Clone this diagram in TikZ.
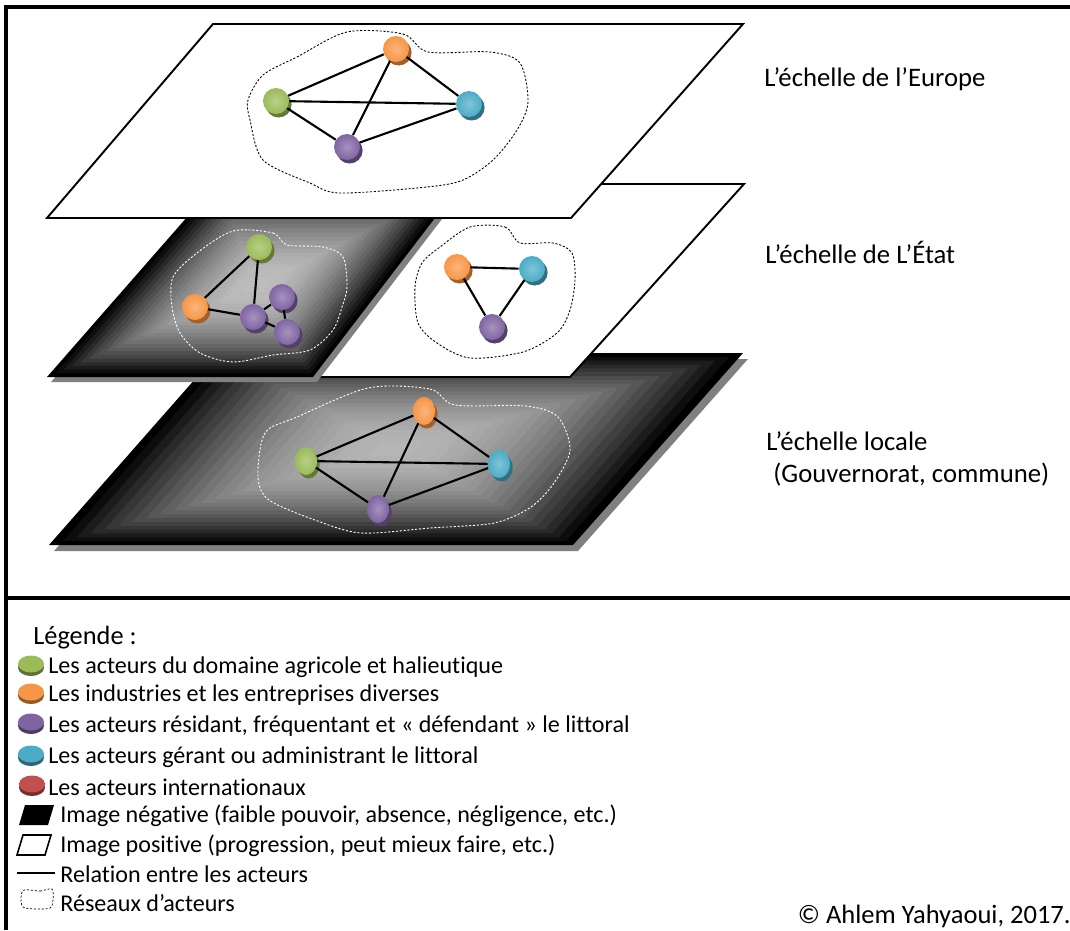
\documentclass[tikz,border=0pt]{standalone}
\usepackage{fontspec}
\setmainfont{Carlito}[Ligatures=NoCommon]
\usetikzlibrary{calc,shadows,shapes.geometric}

\definecolor{agri}{HTML}{9BBB59}
\definecolor{indus}{HTML}{F79646}
\definecolor{resid}{HTML}{8064A2}
\definecolor{gerant}{HTML}{4BACC6}
\definecolor{inter}{HTML}{C0504D}
\definecolor{shadowgray}{HTML}{808080}

\begin{document}
\begin{tikzpicture}[x=0.02cm, y=-0.02cm,
        actor/.style={circle, inner sep=0pt, minimum size=0.52cm, shading=radial, inner color=#1!70!white, outer color=#1,
            drop shadow={shadow xshift=1.5pt, shadow yshift=-2pt, opacity=1, fill=#1!65!black}},
        flatactor/.style={actor=#1, ellipse, minimum width=0.44cm, minimum height=0.56cm},
        legdisk/.style={ellipse, inner sep=0pt, minimum width=0.52cm, minimum height=0.34cm, fill=#1,
            drop shadow={shadow xshift=0pt, shadow yshift=-2pt, opacity=1, fill=#1!60!black}},
        link/.style={line width=1.2pt},
        netdark/.style={line width=0.5pt, dash pattern=on 1.2pt off 1pt},
        netlight/.style={netdark, white},
        scalelabel/.style={anchor=west, inner sep=0pt, align=left, font=\fontsize{15.2}{18.6}\selectfont},
        legtext/.style={anchor=west, inner sep=0pt, font=\fontsize{13.7}{15}\selectfont}
    ]
    \useasboundingbox (0,0) rectangle (1070,930);

    % Frame and divider
    \draw[line width=2.3pt] (6,930) -- (6,7) -- (1070,7);
    \draw[line width=2.3pt] (6,598) -- (1070,598);

    % Local plane (shadow, then shading from rim to centre)
    \coordinate (lA) at (218,353);
    \coordinate (lB) at (743,353);
    \coordinate (lC) at (573,545);
    \coordinate (lD) at (49,545);
    \coordinate (lM) at (396,449);
    \fill[shadowgray] ([shift={(5,6)}]lA) -- ([shift={(5,6)}]lB) -- ([shift={(5,6)}]lC) -- ([shift={(5,6)}]lD) -- cycle;
    \foreach \i in {0,...,24} {
        \pgfmathsetmacro\s{1-\i/25}
        \pgfmathtruncatemacro\w{72*(1-\s*\s)}
        \fill[white!\w!black] ($(lM)!\s!(lA)$) -- ($(lM)!\s!(lB)$) -- ($(lM)!\s!(lC)$) -- ($(lM)!\s!(lD)$) -- cycle;
    }

    % State plane: white part
    \draw[line width=1.1pt, fill=white] (400,184) -- (744,184) -- (570,377) -- (230,377) -- cycle;

    % State plane: dark part
    \coordinate (gA) at (216,184);
    \coordinate (gB) at (461,184);
    \coordinate (gC) at (313,377);
    \coordinate (gD) at (47,377);
    \coordinate (gM) at (259,285);
    \fill[shadowgray] ([shift={(4,5)}]gA) -- ([shift={(4,5)}]gB) -- ([shift={(4,5)}]gC) -- ([shift={(4,5)}]gD) -- cycle;
    \foreach \i in {0,...,24} {
        \pgfmathsetmacro\s{1-\i/25}
        \pgfmathtruncatemacro\w{75*(1-\s*\s)}
        \fill[white!\w!black] ($(gM)!\s!(gA)$) -- ($(gM)!\s!(gB)$) -- ($(gM)!\s!(gC)$) -- ($(gM)!\s!(gD)$) -- cycle;
    }

    % Europe plane
    \draw[line width=1.1pt, fill=white] (213,24) -- (743,24) -- (571,218) -- (47,218) -- cycle;

    % Networks (dotted outlines)
    \draw[netdark] plot[smooth cycle] coordinates {(347,32) (403,34) (428,52) (490,52) (520,63) (528,102) (517,130)
        (493,160) (463,180) (427,187) (340,193) (310,183) (263,160) (250,120) (248,100) (263,75) (297,57)};
    \draw[netlight] plot[smooth cycle] coordinates {(233,231) (273,233) (287,245) (323,247) (343,257) (347,287) (342,307)
        (333,330) (310,350) (273,355) (233,362) (200,353) (180,333) (172,307) (173,277) (197,253)};
    \draw[netdark] plot[smooth cycle] coordinates {(470,227) (505,227) (520,243) (553,243) (572,253) (575,280) (570,310)
        (557,333) (523,352) (470,358) (437,343) (418,323) (415,287) (422,263) (440,247)};
    \draw[netlight] plot[smooth cycle] coordinates {(368,388) (430,389) (455,405) (526,406) (558,417) (570,450) (554,483)
        (531,507) (494,523) (430,528) (361,533) (315,520) (269,500) (258,477) (265,433) (297,417)};

    % Actors at the scale of Europe
    \node[actor=indus] (eOr) at (396,49) {};
    \node[actor=agri] (eGr) at (276,101) {};
    \node[actor=gerant] (eTe) at (469,104) {};
    \node[actor=resid] (ePu) at (347,147) {};

    % Actors at the scale of the State
    \node[actor=agri] (sGr) at (259,247) {};
    \node[actor=indus] (sOr) at (195,307) {};
    \node[actor=resid] (sPu1) at (253,317) {};
    \node[actor=resid] (sPu2) at (282,297) {};
    \node[actor=resid] (sPu3) at (287,332) {};
    \node[actor=indus] (tOr) at (457,267) {};
    \node[actor=gerant] (tTe) at (532,269) {};
    \node[actor=resid] (tPu) at (492,327) {};

    % Actors at the local scale
    \node[flatactor=indus] (lOr) at (424,411) {};
    \node[flatactor=agri] (lGr) at (306,461) {};
    \node[flatactor=gerant] (lTe) at (499,464) {};
    \node[flatactor=resid] (lPu) at (378,509) {};

    % Relations
    \draw[link] (eGr) -- (eOr);
    \draw[link] (eGr) -- (eTe);
    \draw[link] (eGr) -- (ePu);
    \draw[link] (eOr) -- (eTe);
    \draw[link] (eOr) -- (ePu);
    \draw[link] (ePu) -- (eTe);

    \draw[link] (sGr) -- (sOr);
    \draw[link] (sGr) -- (sPu1);
    \draw[link] (sOr) -- (sPu1);
    \draw[link] (sPu1) -- (sPu2);
    \draw[link] (sPu2) -- (sPu3);
    \draw[link] (sPu1) -- (sPu3);

    \draw[link] (tOr) -- (tTe);
    \draw[link] (tOr) -- (tPu);
    \draw[link] (tTe) -- (tPu);

    \draw[link] (lGr) -- (lOr);
    \draw[link] (lGr) -- (lTe);
    \draw[link] (lGr) -- (lPu);
    \draw[link] (lOr) -- (lTe);
    \draw[link] (lOr) -- (lPu);
    \draw[link] (lPu) -- (lTe);

    % Scale labels
    \node[scalelabel] (europe) at (764,79) {L’échelle de l’Europe};
    \node[scalelabel] (etat) at (765,252) {L’échelle de L’État};
    \node[scalelabel] (locale) at (766,459) {L’échelle locale\\\hspace*{4pt}(Gouvernorat, commune)};

    % Legend
    \node[legtext, font=\fontsize{15}{17}\selectfont] (legende) at (33,638) {Légende :};
    \node[legdisk=agri] (dAgri) at (31,664) {};
    \node[legtext] (tAgri) at (48,667) {Les acteurs du domaine agricole et halieutique};
    \node[legdisk=indus] (dIndus) at (31,692) {};
    \node[legtext] (tIndus) at (48,695) {Les industries et les entreprises diverses};
    \node[legdisk=resid] (dResid) at (31,722) {};
    \node[legtext] (tResid) at (48,726) {Les acteurs résidant, fréquentant et « défendant » le littoral};
    \node[legdisk=gerant] (dGerant) at (31,754) {};
    \node[legtext] (tGerant) at (48,757) {Les acteurs gérant ou administrant le littoral};
    \node[legdisk=inter] (dInter) at (32,784) {};
    \node[legtext] (tInter) at (48,787) {Les acteurs internationaux};

    \fill (25,805) -- (54,805) -- (48,825) -- (19,825) -- cycle;
    \node[legtext] (tNeg) at (60,816) {Image négative (faible pouvoir, absence, négligence, etc.)};
    \draw[line width=0.9pt] (23,835) -- (51,835) -- (45,855) -- (17,855) -- cycle;
    \node[legtext] (tPos) at (60,846) {Image positive (progression, peut mieux faire, etc.)};
    \draw[line width=0.9pt] (17,873) -- (55,873);
    \node[legtext] (tRel) at (60,874) {Relation entre les acteurs};
    \draw[netdark, line width=0.4pt] plot[smooth cycle] coordinates {(24,890) (40,891) (52,889) (53,900) (50,908) (35,909) (23,907) (21,898)};
    \node[legtext] (tNet) at (60,903) {Réseaux d’acteurs};

    \node[anchor=east, inner sep=0pt, font=\fontsize{15.1}{17}\selectfont] (credit) at (1071,916) {© Ahlem Yahyaoui, 2017.};

\end{tikzpicture}
\end{document}
